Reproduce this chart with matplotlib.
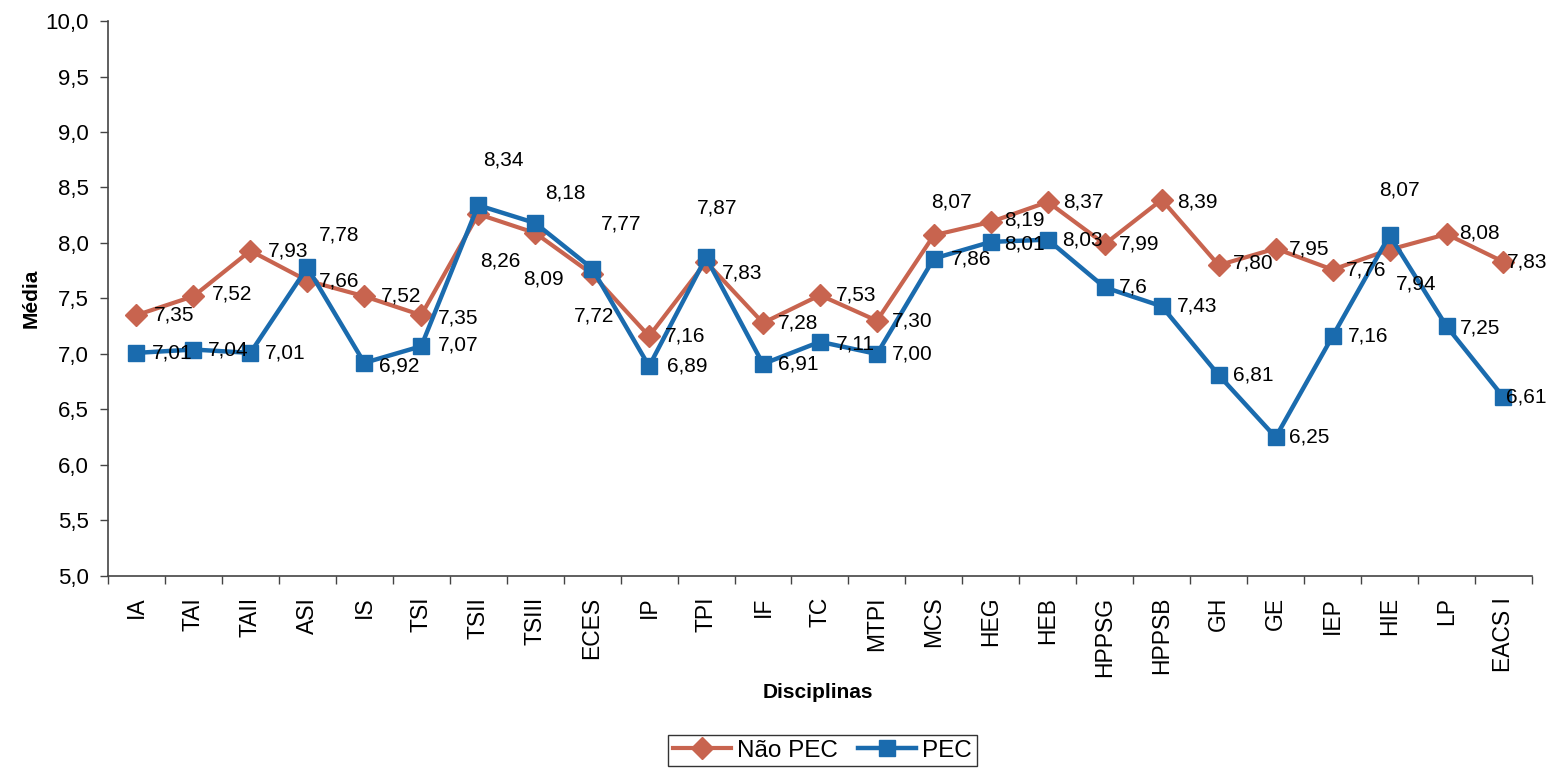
import matplotlib
matplotlib.use("Agg")
import matplotlib.pyplot as plt
import numpy as np

plt.rcParams['font.family'] = ['Liberation Sans', 'DejaVu Sans']

disciplinas = ["IA", "TAI", "TAII", "ASI", "IS", "TSI", "TSII", "TSIII", "ECES", "IP",
               "TPI", "IF", "TC", "MTPI", "MCS", "HEG", "HEB", "HPPSG", "HPPSB", "GH",
               "GE", "IEP", "HIE", "LP", "EACS I"]
nao_pec = [7.35, 7.52, 7.93, 7.66, 7.52, 7.35, 8.26, 8.09, 7.72, 7.16,
           7.83, 7.28, 7.53, 7.30, 8.07, 8.19, 8.37, 7.99, 8.39, 7.80,
           7.95, 7.76, 7.94, 8.08, 7.83]
pec = [7.01, 7.04, 7.01, 7.78, 6.92, 7.07, 8.34, 8.18, 7.77, 6.89,
       7.87, 6.91, 7.11, 7.00, 7.86, 8.01, 8.03, 7.60, 7.43, 6.81,
       6.25, 7.16, 8.07, 7.25, 6.61]
# label text as printed (one value shows a single decimal)
pec_text = ["7,01", "7,04", "7,01", "7,78", "6,92", "7,07", "8,34", "8,18", "7,77", "6,89",
            "7,87", "6,91", "7,11", "7,00", "7,86", "8,01", "8,03", "7,6", "7,43", "6,81",
            "6,25", "7,16", "8,07", "7,25", "6,61"]
yticks = [5.0, 5.5, 6.0, 6.5, 7.0, 7.5, 8.0, 8.5, 9.0, 9.5, 10.0]

# label offsets in pixels (left edge x, vertical centre y) relative to each marker
nao_pec_off = [(17, 0), (18, 2), (18, 0), (12, 0), (17, 0), (17, -3), (2, -47), (-12, -46),
               (-18, -42), (16, 0), (16, -11), (15, 0), (16, 0), (15, 0), (-3, 33), (13, 2),
               (15, 0), (14, 0), (15, -2), (14, 2), (13, 0), (13, 0), (6, -34), (13, 1), (3, 0)]
pec_off = [(15, 0), (14, 0), (15, 0), (12, 32), (15, -3), (17, 1), (5, 45), (10, 30),
           (9, 45), (18, 0), (-9, 49), (15, 0), (16, -2), (15, 0), (17, 0), (13, -2),
           (14, 0), (14, 0), (15, 0), (14, 0), (13, 0), (15, 0), (-10, 45), (13, -2), (3, 0)]

RED = "#C8644F"
BLUE = "#1A6BAE"

fig = plt.figure(figsize=(15.49, 7.75), dpi=100)
ax = fig.add_axes([0.0697, 0.2568, 0.9193, 0.7161])

x = np.arange(len(disciplinas))
ax.plot(x, nao_pec, color=RED, lw=3, marker="D", ms=11, label="Não PEC", zorder=3)
ax.plot(x, pec, color=BLUE, lw=3.2, marker="s", ms=11, label="PEC", zorder=4)

def fmt(v):
    return f"{v:.2f}".replace(".", ",")

for xi, v, (dx, dy) in zip(x, nao_pec, nao_pec_off):
    ax.annotate(fmt(v), (xi, v), xytext=(dx, dy), textcoords="offset pixels",
                ha="left", va="center", fontsize=15, color="black", zorder=6,
                annotation_clip=False)
for xi, v, t, (dx, dy) in zip(x, pec, pec_text, pec_off):
    ax.annotate(t, (xi, v), xytext=(dx, dy), textcoords="offset pixels",
                ha="left", va="center", fontsize=15, color="black", zorder=6,
                annotation_clip=False)

ax.set_xlim(-0.5, len(disciplinas) - 0.5)
ax.set_ylim(5.0, 10.0)

# tick marks between categories, labels at category centres
ax.set_xticks(np.arange(-0.5, len(disciplinas), 1.0))
ax.set_xticklabels([])
ax.set_xticks(x, minor=True)
ax.set_xticklabels(disciplinas, minor=True, rotation=90, fontsize=16.5)
ax.tick_params(axis="x", which="major", length=6, width=1, color="#444444", direction="out")
ax.tick_params(axis="x", which="minor", length=0, pad=15)

ax.set_yticks(yticks)
ax.set_yticklabels([f"{t:.1f}".replace(".", ",") for t in yticks], fontsize=16)
ax.tick_params(axis="y", length=6, width=1, color="#444444", pad=8)

for s in ["top", "right"]:
    ax.spines[s].set_visible(False)
for s in ["left", "bottom"]:
    ax.spines[s].set_color("#444444")
    ax.spines[s].set_linewidth(1.2)

ax.set_ylabel("Média", fontsize=15, fontweight="bold", labelpad=3)
fig.text(0.528, 1 - 692 / 775, "Disciplinas", fontsize=15, fontweight="bold",
         ha="center", va="center")

leg = fig.legend(loc="upper center", bbox_to_anchor=(0.531, 0.052), ncol=2,
                 fontsize=17.5, frameon=True, fancybox=False, edgecolor="black",
                 handlelength=2.4, handletextpad=0.25, columnspacing=0.8,
                 borderpad=0.2, borderaxespad=0)
leg.get_frame().set_linewidth(1.0)

fig.savefig("out.png", dpi=100)
